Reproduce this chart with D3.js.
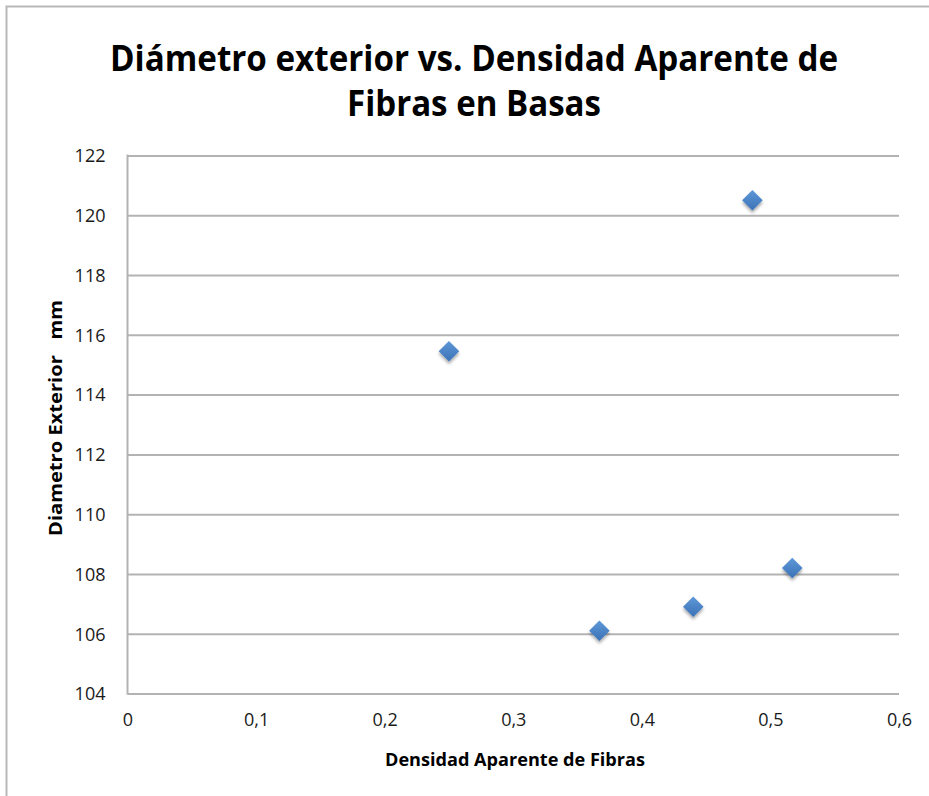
<!DOCTYPE html>
<html>
<head>
<meta charset="utf-8">
<script src="https://cdn.jsdelivr.net/npm/d3@7"></script>
<style>
  html, body { margin: 0; padding: 0; background: #fff; }
  svg { display: block; }
  text { font-family: "Open Sans", "Lato", sans-serif; fill: #111; }
</style>
</head>
<body>
<svg id="chart" width="929" height="796"></svg>
<script>
// Bulk density of fibres (x) vs. outer diameter in mm (y)
const densidad = [0.25, 0.486, 0.367, 0.44, 0.517];
const diametro = [115.45, 120.5, 106.1, 106.9, 108.2];

const xTicks = [0, 0.1, 0.2, 0.3, 0.4, 0.5, 0.6];
const yTicks = [104, 106, 108, 110, 112, 114, 116, 118, 120, 122];

const titleLines = ["Diámetro exterior vs. Densidad Aparente de", "Fibras en Basas"];
const xTitle = "Densidad Aparente de Fibras";
const yTitle = "Diametro Exterior   mm";

const svg = d3.select("#chart");
const W = 929, H = 796;
const plot = { left: 127.5, right: 899, top: 155.5, bottom: 693.5 };

const x = d3.scaleLinear().domain([0, 0.6]).range([plot.left, plot.right]);
const y = d3.scaleLinear().domain([104, 122]).range([plot.bottom, plot.top]);

const defs = svg.append("defs");
const grad = defs.append("linearGradient")
  .attr("id", "markerFill").attr("x1", 0).attr("y1", 0).attr("x2", 0).attr("y2", 1);
grad.append("stop").attr("offset", "0%").attr("stop-color", "#5e98d8");
grad.append("stop").attr("offset", "100%").attr("stop-color", "#3b72b6");
const shadow = defs.append("filter").attr("id", "markerShadow")
  .attr("x", "-50%").attr("y", "-50%").attr("width", "200%").attr("height", "200%");
shadow.append("feDropShadow").attr("dx", 0).attr("dy", 2.5)
  .attr("stdDeviation", 1.6).attr("flood-color", "#000").attr("flood-opacity", 0.35);

// Chart-area frame (top and left edges visible)
svg.append("path")
  .attr("d", `M6.5,${H} V6.5 H${W}`)
  .attr("fill", "none").attr("stroke", "#b8b8b8").attr("stroke-width", 2);

// Title
svg.append("g").selectAll("text").data(titleLines).join("text")
  .attr("x", 474).attr("y", (d, i) => 71 + i * 45)
  .attr("text-anchor", "middle")
  .style("font-family", "'Open Sans', sans-serif")
  .style("font-weight", 700).style("font-size", "35px").style("fill", "#000")
  .attr("textLength", (d, i) => i === 0 ? 728 : 254)
  .attr("lengthAdjust", "spacingAndGlyphs")
  .text(d => d);

// Horizontal gridlines
const yAxis = d3.axisLeft(y).tickValues(yTicks).tickSize(-(plot.right - plot.left))
  .tickPadding(22).tickFormat(d3.format("d"));
const gy = svg.append("g").attr("transform", `translate(${plot.left},0)`).call(yAxis);
gy.select(".domain").remove();
gy.selectAll(".tick line").attr("stroke", "#b3b3b3").attr("stroke-width", 2);
gy.selectAll(".tick text")
  .style("font-size", "18px").style("fill", "#1a1a1a")
  .attr("dy", "0.35em");

// X axis (labels only, with the plot baseline)
const xAxis = d3.axisBottom(x).tickValues(xTicks).tickSize(0).tickPadding(20)
  .tickFormat(d => d === 0 ? "0" : d3.format(".1f")(d).replace(".", ","));
const gx = svg.append("g").attr("transform", `translate(0,${plot.bottom})`).call(xAxis);
gx.select(".domain").remove();
gx.selectAll(".tick text").style("font-size", "18px").style("fill", "#1a1a1a");

// Left axis line
svg.append("line")
  .attr("x1", plot.left).attr("x2", plot.left)
  .attr("y1", plot.top - 1).attr("y2", plot.bottom + 1)
  .attr("stroke", "#b3b3b3").attr("stroke-width", 2);

// Axis titles
svg.append("text")
  .attr("x", 515).attr("y", 766)
  .attr("text-anchor", "middle")
  .style("font-weight", 700).style("font-size", "17px").style("fill", "#000")
  .attr("textLength", 260).attr("lengthAdjust", "spacingAndGlyphs")
  .text(xTitle);

svg.append("text")
  .attr("transform", "translate(62,418) rotate(-90)")
  .attr("text-anchor", "middle")
  .attr("xml:space", "preserve")
  .style("white-space", "pre")
  .style("font-weight", 700).style("font-size", "17px").style("fill", "#000")
  .attr("textLength", 236).attr("lengthAdjust", "spacingAndGlyphs")
  .text(yTitle);

// Diamond markers
const diamond = d3.symbol().type(d3.symbolDiamond2).size(270);
svg.append("g").selectAll("path")
  .data(densidad.map((d, i) => ({ x: d, y: diametro[i] })))
  .join("path")
  .attr("d", diamond)
  .attr("transform", d => `translate(${x(d.x)},${y(d.y)})`)
  .attr("fill", "url(#markerFill)")
  .attr("filter", "url(#markerShadow)");
</script>
</body>
</html>
